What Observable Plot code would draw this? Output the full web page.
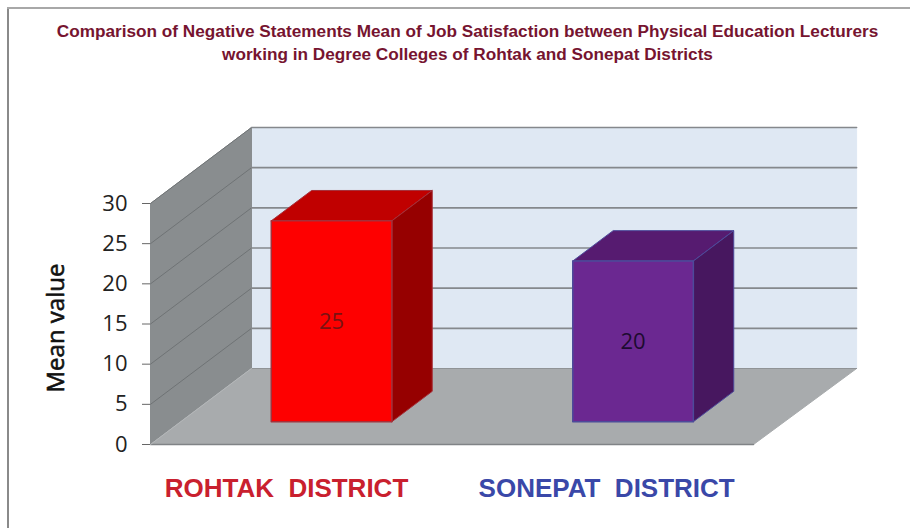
<!DOCTYPE html>
<html>
<head>
<meta charset="utf-8">
<script src="https://cdn.jsdelivr.net/npm/d3@7"></script>
<script src="https://cdn.jsdelivr.net/npm/@observablehq/plot@0.6"></script>
<style>
html,body{margin:0;padding:0;background:#fff;}
#wrap{position:relative;width:910px;height:528px;overflow:hidden;}
#title{position:absolute;left:0;top:20px;width:935px;text-align:center;font:bold 17.2px/23px "Liberation Sans",Arial,sans-serif;color:#761430;}
#chart{position:absolute;left:0;top:70px;}
#frameL{position:absolute;left:7px;top:8px;bottom:0;width:2px;background:#8a8a8a;}
#frameT{position:absolute;left:7px;top:7px;right:0;height:2px;background:#a8a8a8;}
svg{overflow:visible;}
</style>
</head>
<body>
<div id="wrap">
<div id="frameL"></div><div id="frameT"></div>
<div id="title">Comparison of Negative Statements Mean of Job Satisfaction between Physical Education Lecturers<br>working in Degree Colleges of Rohtak and Sonepat Districts</div>
<div id="chart"></div>
</div>
<script>
const categories = ["ROHTAK  DISTRICT", "SONEPAT  DISTRICT"];
const values = [25, 20];
const frontColors = ["#fe0000", "#6b2891"];
const topColors = ["#c00000", "#561b70"];
const sideColors = ["#960000", "#47175f"];
const labelColors = ["#c9202e", "#3a48a8"];
const valueColors = ["#7a1212", "#1d0b30"];
const labelCenters = [0.451, 1.513];
const yTicks = [0, 5, 10, 15, 20, 25, 30];
const yMax = 30;

// oblique projection: depth z in [0,1] shifts x and y in data units
const shiftX = 0.335, shiftY = 9.46;
const P = (x, y, z) => ({x: x + z * shiftX, y: y + z * shiftY});
const n = categories.length;
const backEnd = n + 0.007;
const face = (pts, fill, stroke, strokeWidth = 1) =>
  Plot.line([...pts, pts[0]], {x: "x", y: "y", fill, stroke: stroke ?? fill, strokeWidth, curve: "linear"});

const marks = [];
// back wall, left wall, floor
marks.push(face([P(0,0,1), P(backEnd,0,1), P(backEnd,yMax,1), P(0,yMax,1)], "#dfe8f3"));
marks.push(face([P(0,0,0), P(0,0,1), P(0,yMax,1), P(0,yMax,0)], "#898d8f"));
marks.push(face([P(0,0,0), P(n,0,0), P(backEnd,0,1), P(0,0,1)], "#a8abad"));
// gridlines
for (const t of yTicks) {
  if (t > 0) {
    marks.push(Plot.line([P(0,t,0), P(0,t,1)], {x:"x", y:"y", stroke:"#6f7375", strokeWidth: 1}));
    marks.push(Plot.line([P(0,t,1), P(backEnd,t,1)], {x:"x", y:"y", stroke:"#85888c", strokeWidth: 1.6}));
  }
}
marks.push(Plot.line([P(0,0,0), P(n,0,0)], {x:"x", y:"y", stroke:"#808386", strokeWidth:1.5}));
marks.push(Plot.line([P(0,0,1), P(backEnd,0,1)], {x:"x", y:"y", stroke:"#909396", strokeWidth:1}));
marks.push(Plot.line([P(0,0,0), P(0,0,1)], {x:"x", y:"y", stroke:"#b5b8ba", strokeWidth:1}));
// bars
values.forEach((v, i) => {
  const a = i + 0.3, b = i + 0.7, z0 = 0.3, z1 = 0.7;
  const edge = i ? "#4d4a9a" : "#a5303a";
  marks.push(face([P(a,v,z0), P(b,v,z0), P(b,v,z1), P(a,v,z1)], topColors[i], edge));
  marks.push(face([P(b,0,z0), P(b,0,z1), P(b,v,z1), P(b,v,z0)], sideColors[i], edge));
  marks.push(face([P(a,0,z0), P(b,0,z0), P(b,v,z0), P(a,v,z0)], frontColors[i], edge, 1.5));
  const c = P(i + 0.5, v / 2, z0);
  marks.push(Plot.text([v], {x: () => c.x, y: () => c.y, text: d => String(d), fill: valueColors[i], fontSize: 22, fontFamily: "Open Sans", dy: 1}));
  marks.push(Plot.text([categories[i]], {x: () => labelCenters[i], y: () => 0, text: d => d, fill: labelColors[i], fontSize: 26, fontWeight: "bold", fontFamily: "Liberation Sans", dy: 44}));
});

const chart = Plot.plot({
  width: 910,
  height: 458,
  marginLeft: 150,
  marginRight: 157,
  marginTop: 133,
  marginBottom: 84,
  x: {domain: [0, n], axis: null},
  y: {domain: [0, yMax], axis: null},
  style: {background: "transparent", overflow: "visible"},
  marks: [
    ...marks,
    Plot.axisY({ticks: yTicks, tickSize: 8, tickPadding: 15, fontSize: 22, fontFamily: "Open Sans", color: "#222", stroke: "#666", label: null, tickFormat: d => String(d)}),
    Plot.text(["Mean value"], {x: () => 0, y: () => 14.5, text: d => d, rotate: -90, dx: -94, fontSize: 24, fontFamily: "Open Sans", fill: "#111", stroke: "#111", strokeWidth: 0.6})
  ]
});
document.getElementById("chart").appendChild(chart);
</script>
</body>
</html>
